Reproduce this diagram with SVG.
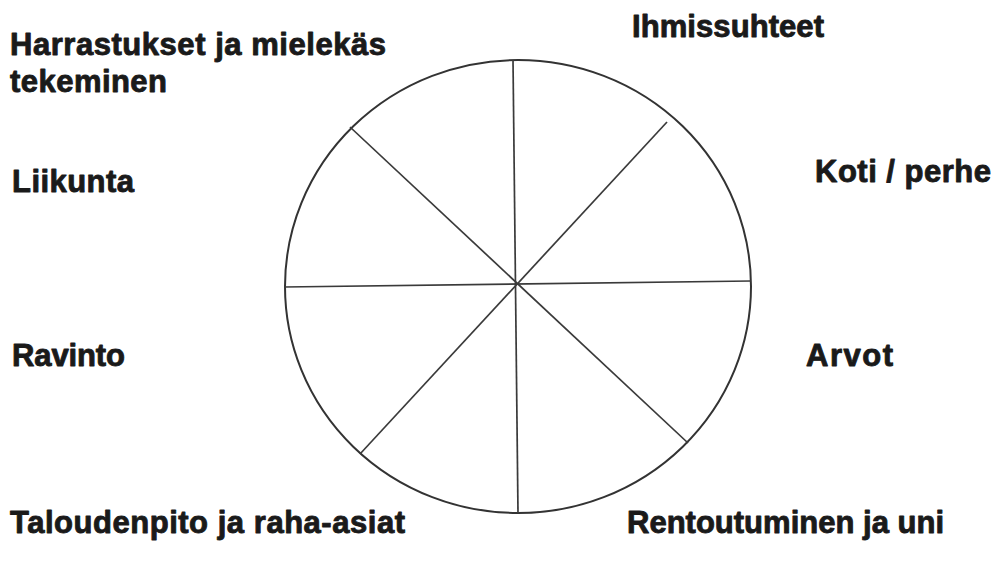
<svg xmlns="http://www.w3.org/2000/svg" width="996" height="563" viewBox="0 0 996 563">
<style>
.lbl{font-family:"Liberation Sans",Arial,sans-serif;font-weight:bold;font-size:31px;fill:#1a1a1a;stroke:#1a1a1a;stroke-width:0.9;stroke-linejoin:round}
.spoke{stroke:#3a3a3a;stroke-width:1.7;fill:none}
</style>
<rect width="996" height="563" fill="#fff"/>
<g id="wheel">
<ellipse cx="518" cy="286.5" rx="233" ry="226.5" fill="none" stroke="#333" stroke-width="2"/>
</g>
<g id="connectors">
<line class="spoke" x1="513" y1="60" x2="518" y2="513" stroke="#222"/>
<line class="spoke" x1="284" y1="287" x2="751" y2="281"/>
<line class="spoke" x1="350" y1="127" x2="688" y2="443"/>
<line class="spoke" x1="667" y1="122" x2="360" y2="454"/>
</g>
<g id="n-harrastukset"><text class="lbl" x="10" y="55" textLength="376">Harrastukset ja mielekäs</text><text class="lbl" x="10" y="92" textLength="157">tekeminen</text></g>
<g id="n-ihmissuhteet"><text class="lbl" x="632" y="37" textLength="192">Ihmissuhteet</text></g>
<g id="n-koti"><text class="lbl" x="815" y="182" textLength="176">Koti / perhe</text></g>
<g id="n-liikunta"><text class="lbl" x="12" y="192" textLength="122">Liikunta</text></g>
<g id="n-ravinto"><text class="lbl" x="12" y="366" textLength="113">Ravinto</text></g>
<g id="n-arvot"><text class="lbl" x="806" y="366" textLength="87">Arvot</text></g>
<g id="n-talous"><text class="lbl" x="10" y="533" textLength="395">Taloudenpito ja raha-asiat</text></g>
<g id="n-rentoutuminen"><text class="lbl" x="627" y="533" textLength="317">Rentoutuminen ja uni</text></g>
</svg>
